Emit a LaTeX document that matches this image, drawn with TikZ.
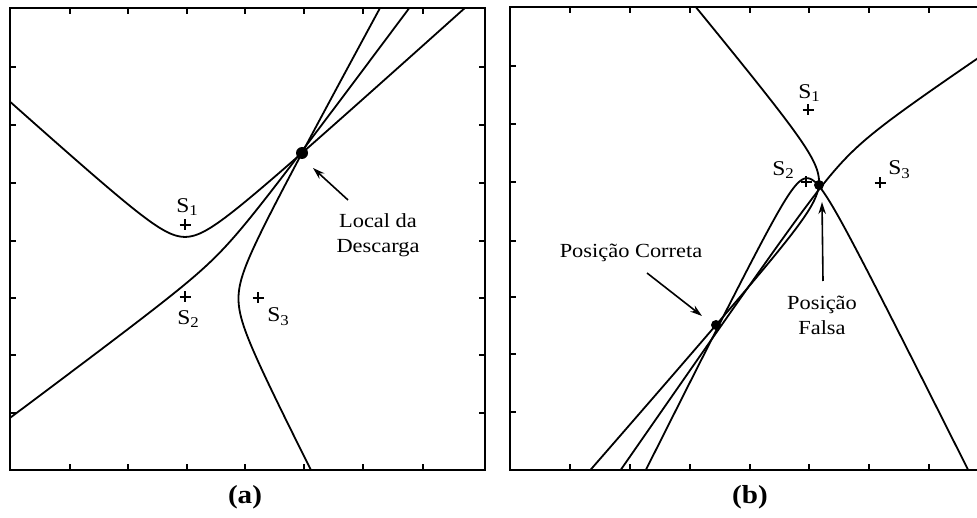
\documentclass[tikz,border=0pt]{standalone}
\usepackage{fontspec}
\setmainfont{Liberation Serif}[FakeStretch=1.12]
\usetikzlibrary{arrows.meta}
\newcommand{\sensorsub}[1]{\raisebox{-0.4ex}{\fontsize{15}{15}\selectfont #1}}
\newcommand{\hyperbranch}[5]{%
 \pgfmathsetmacro{\hyMx}{(#1+#3)/2}%
 \pgfmathsetmacro{\hyMy}{(#2+#4)/2}%
 \pgfmathsetmacro{\hyC}{veclen(#1-#3,#2-#4)/2}%
 \pgfmathsetmacro{\hyA}{#5}%
 \pgfmathsetmacro{\hyB}{sqrt(\hyC*\hyC-\hyA*\hyA)}%
 \pgfmathsetmacro{\hyUx}{(#1-#3)/(2*\hyC)}%
 \pgfmathsetmacro{\hyUy}{(#2-#4)/(2*\hyC)}%
 \draw[curve] plot[domain=-4:4,samples=401,variable=\t]
   ({\hyMx+\hyA*cosh(\t)*\hyUx-\hyB*sinh(\t)*\hyUy},{\hyMy+\hyA*cosh(\t)*\hyUy+\hyB*sinh(\t)*\hyUx});%
}
% a computed from a point (px,py) closer to focus 1
\newcommand{\tdoa}[6]{(veclen(#5-#3,#6-#4)-veclen(#5-#1,#6-#2))/2}
\begin{document}
\begin{tikzpicture}[x=1pt,y=-1pt,
  curve/.style={line width=1.8pt,line join=round},
  frame/.style={line width=2pt},
  tick/.style={line width=1.4pt},
  lbl/.style={font=\fontsize{20}{25}\selectfont,inner sep=0pt,align=center},
  slbl/.style={font=\fontsize{21}{25}\selectfont,inner sep=0pt},
  captxt/.style={font=\fontsize{26}{30}\selectfont\bfseries,inner sep=0pt},
  pt/.style={circle,fill,inner sep=0pt,minimum size=10pt},
  arr/.style={line width=1.6pt,-{Stealth[length=12pt,width=7.5pt]}},
  plus/.style={line width=1.3pt}]
\useasboundingbox (0,0) rectangle (977,518);
\fill[white] (0,0) rectangle (977,518);

% ---------------- panel (a)
\draw[frame] (10,8) rectangle (485,470);
\foreach \x in {70,128,187,245,304,363,423}{
  \draw[tick] (\x,8) -- ++(0,6);
  \draw[tick] (\x,470) -- ++(0,-6);}
\foreach \y in {67,125,183,241,298,355,413}{
  \draw[tick] (10,\y) -- ++(6,0);
  \draw[tick] (485,\y) -- ++(-6,0);}
\begin{scope}
  \clip (10,8) rectangle (485,470);
  \hyperbranch{185}{225}{185}{297}{\tdoa{185}{225}{185}{297}{302}{153}}
  \hyperbranch{185}{225}{258}{298}{7.5}
  \hyperbranch{258}{298}{185}{297}{\tdoa{258}{298}{185}{297}{302}{153}}
\end{scope}
\coordinate (s1a) at (185,225);
\coordinate (s2a) at (185,297);
\coordinate (s3a) at (258,298);
\foreach \s in {s1a,s2a,s3a}{
  \draw[plus] (\s) +(-5.5,0) -- +(5.5,0) +(0,-5.5) -- +(0,5.5);}
\node[slbl] (ls1a) at (187,207) {S\sensorsub{1}};
\node[slbl] (ls2a) at (188,319) {S\sensorsub{2}};
\node[slbl] (ls3a) at (278,317) {S\sensorsub{3}};
\node[pt,minimum size=12pt] (srcA) at (302,153) {};
\node[lbl] (locA) at (378,235) {Local da\\Descarga};
\coordinate (arrAt) at (348,200);
\coordinate (arrAh) at (313,168);
\draw[arr] (arrAt) -- (arrAh);
\node[captxt] (capA) at (245,497) {(a)};

% ---------------- panel (b)
\draw[frame] (989,470) -- (510,470) -- (510,7) -- (989,7);
\foreach \x in {570,630,690,750,809,869,929}{
  \draw[tick] (\x,7) -- ++(0,6);
  \draw[tick] (\x,470) -- ++(0,-6);}
\foreach \y in {66,124,182,241,297,354,412}{
  \draw[tick] (510,\y) -- ++(6,0);}
\begin{scope}
  \clip (510,7) rectangle (989,470);
  \hyperbranch{806}{182}{880}{183}{\tdoa{806}{182}{880}{183}{716}{325}}
  \hyperbranch{880}{183}{808}{110}{9.5}
  \hyperbranch{807}{182}{807}{110}{32.2}
\end{scope}
\coordinate (s1b) at (808,110);
\coordinate (s2b) at (806,182);
\coordinate (s3b) at (880,183);
\foreach \s in {s1b,s2b,s3b}{
  \draw[plus] (\s) +(-5.5,0) -- +(5.5,0) +(0,-5.5) -- +(0,5.5);}
\node[slbl] (ls1b) at (809,93) {S\sensorsub{1}};
\node[slbl] (ls2b) at (783,170) {S\sensorsub{2}};
\node[slbl] (ls3b) at (899,170) {S\sensorsub{3}};
\node[pt] (falseB) at (819,185) {};
\node[pt] (trueB) at (716,325) {};
\node[lbl] (corB) at (631,253) {Posição Correta};
\node[lbl] (falB) at (822,315) {Posição\\Falsa};
\coordinate (arrBt) at (647,273);
\coordinate (arrBh) at (702,316);
\draw[arr] (arrBt) -- (arrBh);
\coordinate (arrCt) at (823,281);
\coordinate (arrCh) at (822,202);
\draw[arr] (arrCt) -- (arrCh);
\node[captxt] (capB) at (750,497) {(b)};
\end{tikzpicture}
\end{document}
